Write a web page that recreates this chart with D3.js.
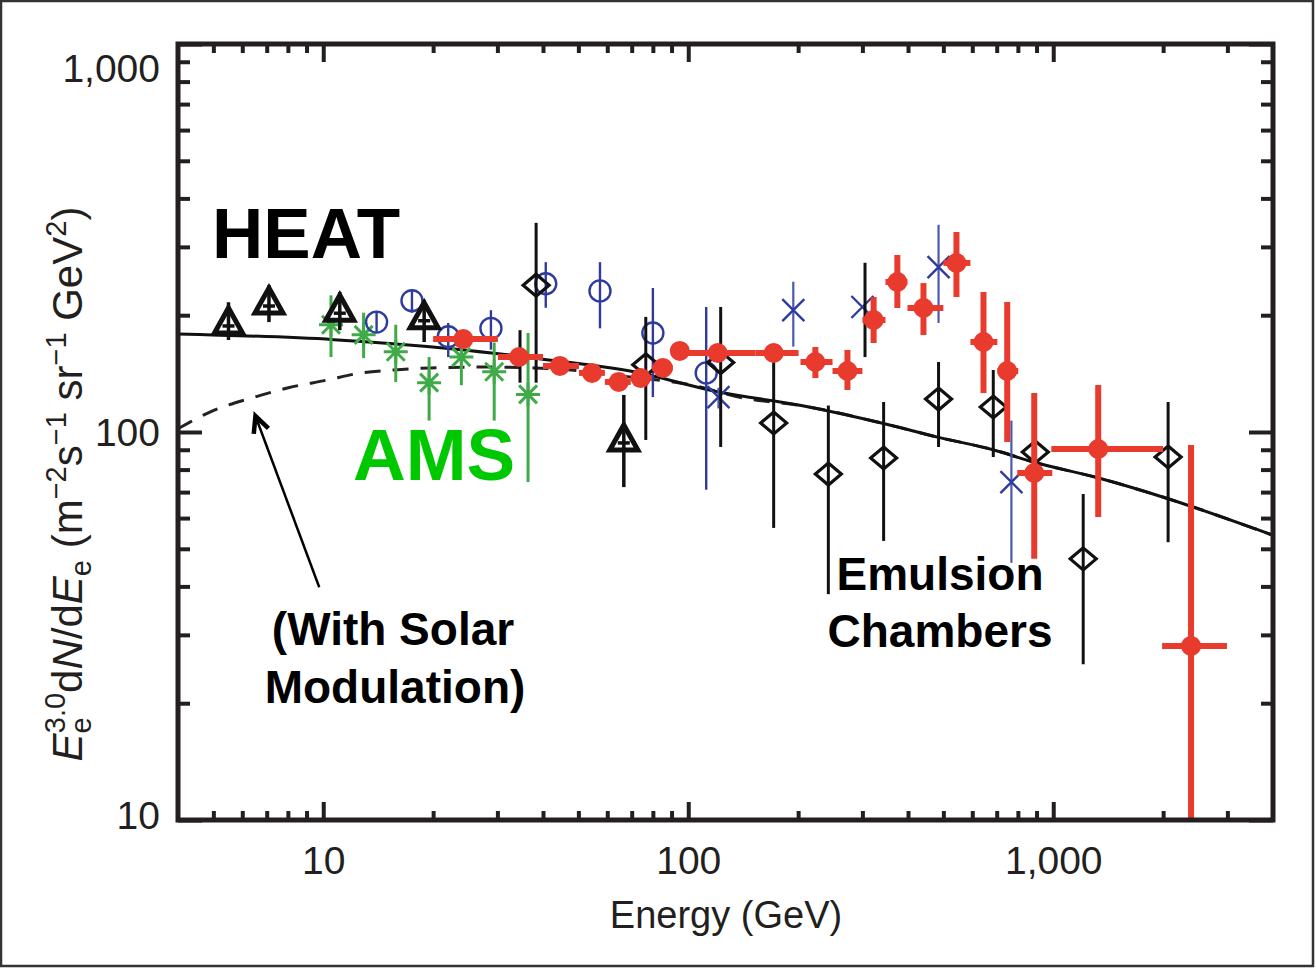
<!DOCTYPE html>
<html lang="en">
<head>
<meta charset="utf-8">
<title>Electron spectrum</title>
<script src="https://cdn.jsdelivr.net/npm/d3@7/dist/d3.min.js"></script>
<style>
  body { margin: 0; background: #fff; }
  svg { display: block; }
</style>
</head>
<body>
<script>
// ---- data (energy in GeV, flux E^3 dN/dE) ----

// model curves
var modelE = [4, 10.7, 22.4, 38, 71, 120, 204, 345, 482, 684, 882, 1339, 2034, 3830, 4000];
var modelV = [179, 173, 164, 155, 143, 127, 117, 105, 97, 90, 83.7, 76, 67.6, 55, 54.2];
var solarE = [4, 4.94, 6.48, 8.02, 10.2, 12.7, 15.6, 19.7, 27, 37.8, 50.8, 65.4, 101.6, 142, 204, 345, 482, 684, 882, 1339, 2034, 3830, 4000];
var solarV = [102, 113, 123, 130, 136, 142, 144.5, 146.3, 147, 146.3, 143.6, 139.4, 132.2, 122.3, 117, 105, 97, 90, 83.7, 76, 67.6, 55, 54.2];

// HEAT (triangles)
var heatE  = [5.5, 7.1, 11.1, 18.9, 66.6];
var heatV  = [191, 215, 206, 197, 95.4];
var heatLo = [172.6, 192, 183, 170.6, 72.1];
var heatHi = [216, 239, 229.5, 219, 124.6];

// AMS (asterisks)
var amsE  = [10.5, 12.9, 15.8, 19.5, 23.9, 29.4, 36.4];
var amsV  = [189, 178, 161, 134, 156, 143, 125];
var amsLo = [156, 155, 134.5, 107, 132, 107, 74.3];
var amsHi = [225, 203, 189, 156, 173, 170, 180];

// blue open circles
var circE  = [14.0, 17.5, 22.0, 28.8, 40.7, 57.3, 80.0, 112];
var circV  = [192, 218, 176, 185, 241, 231, 180, 142];
var circLo = [180, 203, 156, 163, 209, 185, 123, 71];
var circHi = [204, 232, 191, 206, 274, 274, 235, 210];

// blue crosses
var crossE  = [121, 194, 300, 485, 768];
var crossV  = [123, 206, 210, 266, 74.3];
var crossLo = [115, 166, 210, 191, 46];
var crossHi = [130, 244, 210, 342, 107];

// emulsion chambers (open diamonds)
var ecE  = [38.3, 76.5, 122.7, 171.4, 242, 343, 485, 685, 893, 1208, 2064];
var ecV  = [239, 149, 151, 105.5, 77.9, 85.7, 121.6, 116, 88.8, 47.1, 86.2];
var ecLo = [134, 95.4, 91.5, 56.6, 38.2, 52.4, 91.5, 86.2, 83, 25.2, 52];
var ecHi = [346, 198, 210, 158, 117, 119.5, 151.5, 144.5, 95, 69.2, 119.5];

// loose black error bars with hidden markers
var strayE  = [34.6, 305];
var strayLo = [134, 156];
var strayHi = [183, 273];

// ATIC (red filled circles)
var aticE   = [24.2, 34.4, 44.5, 54.5, 64.5, 74.1, 85.2, 94.8, 120.4, 171.4, 223, 273, 322, 374, 441, 543, 644, 748, 887, 1328, 2385];
var aticV   = [173.6, 156.1, 148, 142, 134.6, 137.7, 146.3, 161.8, 159.8, 159.8, 151.5, 143.6, 194.4, 243.6, 208.7, 272.7, 170.6, 143.6, 78.4, 90.4, 28.1];
var aticElo = [20.0, 30.1, 40.0, 50.2, 59.1, 69.6, 79.5, 90.7, 94.8, 153, 203, 248.5, 300, 347, 398.6, 500, 593, 703, 797, 988, 1987];
var aticEhi = [30.1, 40.0, 50.2, 59.1, 69.6, 79.5, 90.7, 99.7, 153, 200.6, 248.5, 300, 347, 398.6, 500, 593, 703, 802, 994, 2000, 2992];
var aticLo  = [166, 150, 142, 136, 129, 132, 140, 155, 153, 153, 137.7, 128.3, 169.6, 208.7, 177.8, 222.8, 126, 94.2, 47.1, 60.4, 9];
var aticHi  = [181, 163, 154, 148, 140, 144, 153, 169, 167, 167, 165.6, 162.7, 222.8, 285.9, 242, 327.7, 229.5, 216.3, 126, 132.2, 92.6];

// axis ticks
var xMajor = [10, 100, 1000];
var xMinor = [5, 6, 7, 8, 9, 20, 30, 40, 50, 60, 70, 80, 90, 200, 300, 400, 500, 600, 700, 800, 900, 2000, 3000];
var yMajor = [10, 100, 1000];
var yMinor = [20, 30, 40, 50, 60, 70, 80, 90, 200, 300, 400, 500, 600, 700, 800, 900];

// ---- layout ----
var W = 1316, H = 968;
var pL = 178, pR = 1273, pT = 44, pB = 820;
var ink = "#231f20";
var font = "'Liberation Sans', Arial, Helvetica, sans-serif";

var svg = d3.select("body").append("svg")
    .attr("width", W).attr("height", H);

// outer frame of the picture
svg.append("rect")
    .attr("x", 1).attr("y", 1).attr("width", W - 4).attr("height", H - 3)
    .attr("fill", "none").attr("stroke", "#333").attr("stroke-width", 2.5);

var x = d3.scaleLog().domain([4, 4000]).range([pL, pR]);
var y = d3.scaleLog().domain([10, 1000]).range([pB, pT]);

svg.append("clipPath").attr("id", "plot")
    .append("rect").attr("x", pL).attr("y", pT)
    .attr("width", pR - pL).attr("height", pB - pT);

var plot = svg.append("g").attr("clip-path", "url(#plot)");

// ---- model curves ----
var line = d3.line()
    .x(function (d) { return x(d[0]); })
    .y(function (d) { return y(d[1]); })
    .curve(d3.curveMonotoneX);

plot.append("path")
    .attr("d", line(d3.zip(solarE, solarV)))
    .attr("fill", "none").attr("stroke", "#222").attr("stroke-width", 3)
    .attr("stroke-dasharray", "16,12");

plot.append("path")
    .attr("d", line(d3.zip(modelE, modelV)))
    .attr("fill", "none").attr("stroke", "#111").attr("stroke-width", 3);

// ---- helpers ----
function vbars(E, lo, hi, color, w) {
    plot.append("g").selectAll("line")
        .data(d3.range(E.length))
        .enter().append("line")
        .attr("x1", function (i) { return x(E[i]); })
        .attr("x2", function (i) { return x(E[i]); })
        .attr("y1", function (i) { return y(lo[i]); })
        .attr("y2", function (i) { return y(hi[i]); })
        .attr("stroke", color).attr("stroke-width", w);
}

function markers(E, V, pathD, stroke, w, fill) {
    plot.append("g").selectAll("path")
        .data(d3.range(E.length))
        .enter().append("path")
        .attr("transform", function (i) { return "translate(" + x(E[i]) + "," + y(V[i]) + ")"; })
        .attr("d", pathD)
        .attr("fill", fill || "none")
        .attr("stroke", stroke).attr("stroke-width", w);
}

// ---- AMS ----
var green = "#40aa48";
vbars(amsE, amsLo, amsHi, green, 3);
markers(amsE, amsV, "M-12,0L12,0M0,-12L0,12M-9,-9L9,9M-9,9L9,-9", green, 3);

// ---- blue circles and crosses ----
var blue = "#2f3c9e";
vbars(circE, circLo, circHi, blue, 2.4);
markers(circE, circV, "M10.5,0A10.5,10.5 0 1,1 -10.5,0A10.5,10.5 0 1,1 10.5,0Z", blue, 2.4);
vbars(crossE, crossLo, crossHi, "#4a58b0", 2.2);
markers(crossE, crossV, "M-11,-11L11,11M-11,11L11,-11", blue, 2.4);

// ---- emulsion chambers ----
vbars(strayE, strayLo, strayHi, "#111", 3);
vbars(ecE, ecLo, ecHi, "#111", 3);
markers(ecE, ecV, "M0,-11L13,0L0,11L-13,0Z", "#111", 3.2);

// ---- HEAT ----
markers(heatE, heatV, "M0,-15L14,10L-14,10Z", "#111", 5, "#fff");
vbars(heatE, heatLo, heatHi, "#111", 3.5);
markers(heatE, heatV, "M-6,3L6,3", "#111", 3.5);

// ---- ATIC ----
var red = "#e83b2e";
plot.append("g").selectAll("line")
    .data(d3.range(aticE.length))
    .enter().append("line")
    .attr("x1", function (i) { return x(aticElo[i]); })
    .attr("x2", function (i) { return x(aticEhi[i]); })
    .attr("y1", function (i) { return y(aticV[i]); })
    .attr("y2", function (i) { return y(aticV[i]); })
    .attr("stroke", red).attr("stroke-width", 6);
vbars(aticE, aticLo, aticHi, red, 6);
plot.append("g").selectAll("circle")
    .data(d3.range(aticE.length))
    .enter().append("circle")
    .attr("cx", function (i) { return x(aticE[i]); })
    .attr("cy", function (i) { return y(aticV[i]); })
    .attr("r", 10)
    .attr("fill", red);

// ---- axes (ticks point inward) ----
function styleAxis(g) {
    g.select(".domain").remove();
    g.selectAll(".tick line").attr("stroke", ink).attr("stroke-width", 4);
    g.attr("font-family", font).attr("font-size", 39);
    g.selectAll(".tick text").attr("fill", ink);
}

svg.append("g").attr("transform", "translate(0," + pB + ")")
    .call(d3.axisBottom(x).tickValues(xMinor).tickSize(-9).tickFormat(""))
    .call(styleAxis);
svg.append("g").attr("transform", "translate(0," + pB + ")")
    .call(d3.axisBottom(x).tickValues(xMajor).tickSize(-18).tickPadding(26).tickFormat(d3.format(",")))
    .call(styleAxis);
svg.append("g").attr("transform", "translate(0," + pT + ")")
    .call(d3.axisTop(x).tickValues(xMinor).tickSize(-9).tickFormat(""))
    .call(styleAxis);
svg.append("g").attr("transform", "translate(0," + pT + ")")
    .call(d3.axisTop(x).tickValues(xMajor).tickSize(-18).tickFormat(""))
    .call(styleAxis);

svg.append("g").attr("transform", "translate(" + pL + ",0)")
    .call(d3.axisLeft(y).tickValues(yMinor).tickSize(-12).tickFormat(""))
    .call(styleAxis);
var yAxis = svg.append("g").attr("transform", "translate(" + pL + ",0)")
    .call(d3.axisLeft(y).tickValues(yMajor).tickSize(-24).tickPadding(18).tickFormat(d3.format(",")))
    .call(styleAxis);
// keep the end labels inside the frame height
yAxis.selectAll(".tick text")
    .attr("dy", function (d) { return d === 1000 ? "0.95em" : (d === 10 ? "0.22em" : "0.34em"); });

svg.append("g").attr("transform", "translate(" + pR + ",0)")
    .call(d3.axisRight(y).tickValues(yMinor).tickSize(-12).tickFormat(""))
    .call(styleAxis);
svg.append("g").attr("transform", "translate(" + pR + ",0)")
    .call(d3.axisRight(y).tickValues(yMajor).tickSize(-24).tickFormat(""))
    .call(styleAxis);

// frame
svg.append("rect")
    .attr("x", pL).attr("y", pT)
    .attr("width", pR - pL).attr("height", pB - pT)
    .attr("fill", "none").attr("stroke", ink).attr("stroke-width", 5);

// ---- axis titles ----
svg.append("text")
    .attr("x", 726).attr("y", 928)
    .attr("text-anchor", "middle")
    .attr("font-family", font).attr("font-size", 38).attr("fill", ink)
    .text("Energy (GeV)");

var yt = svg.append("text")
    .attr("transform", "translate(82,484) rotate(-90)")
    .attr("text-anchor", "middle")
    .attr("font-family", font).attr("font-size", 42).attr("fill", ink);
var parts = [
    ["E", 0, 0, "italic"], ["e", 9, 0, "sub"], ["3.0", -26, -16, "sup"],
    ["d", 17, 0, ""], ["N", 0, 0, "italic"], ["/d", 0, 0, ""], ["E", 0, 0, "italic"],
    ["e", 9, 0, "sub"], [" (m", -9, 0, ""], ["\u22122", -16, 0, "sup"], ["s", 16, 0, ""],
    ["\u22121", -16, 0, "sup"], [" sr", 16, 0, ""], ["\u22121", -16, 0, "sup"],
    [" GeV", 16, 0, ""], ["2", -16, 0, "sup"], [")", 16, 0, ""]
];
parts.forEach(function (p) {
    var t = yt.append("tspan").attr("dy", p[1]).attr("dx", p[2]).text(p[0]);
    if (p[3] === "italic") t.attr("font-style", "italic");
    if (p[3] === "sub" || p[3] === "sup") t.attr("font-size", 29);
});

// ---- annotations ----
function label(txt, xx, yy, size, color, anchor) {
    svg.append("text")
        .attr("x", xx).attr("y", yy)
        .attr("text-anchor", anchor || "start")
        .attr("font-family", font).attr("font-weight", "bold")
        .attr("font-size", size).attr("fill", color)
        .text(txt);
}
label("HEAT", 212, 258, 71, "#000");
label("AMS", 353, 480, 73, "#00c800");
label("(With Solar", 393, 645, 46, "#000", "middle");
label("Modulation)", 395, 703, 46, "#000", "middle");
label("Emulsion", 940, 590, 46, "#000", "middle");
label("Chambers", 940, 647, 46, "#000", "middle");

// arrow pointing at the modulated curve
var tip = [x(6.52), y(110)], tail = [x(9.75), y(39.8)];
svg.append("line")
    .attr("x1", tail[0]).attr("y1", tail[1]).attr("x2", tip[0]).attr("y2", tip[1])
    .attr("stroke", "#000").attr("stroke-width", 2.5);
var ang = Math.atan2(tail[1] - tip[1], tail[0] - tip[0]);
var head = [ang - 0.45, ang + 0.45].map(function (a) {
    return [tip[0] + 18 * Math.cos(a), tip[1] + 18 * Math.sin(a)];
});
svg.append("path")
    .attr("d", "M" + head[0] + "L" + tip + "L" + head[1])
    .attr("fill", "none").attr("stroke", "#000").attr("stroke-width", 4.5)
    .attr("stroke-linejoin", "miter");
</script>
</body>
</html>
